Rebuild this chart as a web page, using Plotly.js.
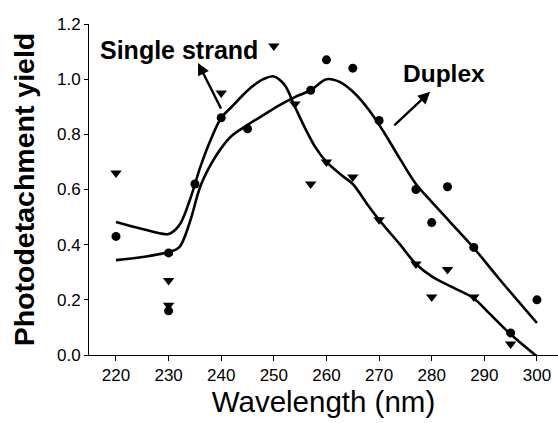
<!DOCTYPE html>
<html>
<head>
<meta charset="utf-8">
<script src="https://cdn.plot.ly/plotly-3.0.1.min.js"></script>
<style>html,body{margin:0;padding:0;background:#fff;}#chart{width:558px;height:423px;}</style>
</head>
<body>
<div id="chart"></div>
<script>
var duplexX = [220, 230, 230, 235, 240, 245, 257, 260, 265, 270, 277, 280, 283, 288, 295, 300];
var duplexY = [0.43, 0.37, 0.16, 0.62, 0.86, 0.82, 0.96, 1.07, 1.04, 0.85, 0.60, 0.48, 0.61, 0.39, 0.08, 0.20];

var singleX = [220, 230, 230, 240, 250, 254, 257, 260, 265, 270, 277, 280, 283, 288, 295, 300];
var singleY = [0.66, 0.27, 0.18, 0.95, 1.12, 0.91, 0.62, 0.70, 0.645, 0.49, 0.33, 0.21, 0.31, 0.21, 0.04, -0.01];

// Smoothed fit curves
var singleFitX = [220, 225, 230, 232, 234, 236, 238, 240, 242, 244, 246, 248, 250, 252, 254, 256, 258, 260, 263, 265, 268, 270, 274, 277, 280, 284, 288, 291, 295, 300];
var singleFitY = [0.482, 0.457, 0.439, 0.47, 0.56, 0.68, 0.78, 0.86, 0.90, 0.94, 0.975, 1.0, 1.01, 0.98, 0.90, 0.82, 0.75, 0.70, 0.65, 0.62, 0.54, 0.49, 0.40, 0.33, 0.285, 0.245, 0.205, 0.15, 0.075, -0.005];

var duplexFitX = [220, 225, 230, 232, 234, 236, 238, 240, 242, 245, 248, 251, 254, 257, 260, 262.5, 265, 268, 271, 274, 277, 280, 283.5, 288, 293, 300];
var duplexFitY = [0.344, 0.355, 0.373, 0.39, 0.48, 0.61, 0.69, 0.75, 0.795, 0.834, 0.87, 0.905, 0.935, 0.96, 1.0, 0.99, 0.955, 0.89, 0.805, 0.71, 0.62, 0.555, 0.482, 0.388, 0.272, 0.116];

var xTicks = [220, 230, 240, 250, 260, 270, 280, 290, 300];
var yTicks = [0.0, 0.2, 0.4, 0.6, 0.8, 1.0, 1.2];
var yTickText = ['0.0', '0.2', '0.4', '0.6', '0.8', '1.0', '1.2'];

var FONT = 'Liberation Sans, Arial, Helvetica, sans-serif';

var traces = [
  {x: singleFitX, y: singleFitY, mode: 'lines', line: {color: '#000', width: 2.6, shape: 'spline', smoothing: 1}, showlegend: false, hoverinfo: 'skip', cliponaxis: false},
  {x: duplexFitX, y: duplexFitY, mode: 'lines', line: {color: '#000', width: 2.6, shape: 'spline', smoothing: 1}, showlegend: false, hoverinfo: 'skip', cliponaxis: false},
  {x: duplexX, y: duplexY, mode: 'markers', name: 'Duplex', marker: {symbol: 'circle', size: 9, color: '#000'}, showlegend: false, cliponaxis: false},
  {x: singleX, y: singleY, mode: 'markers', name: 'Single strand', marker: {symbol: 'triangle-down', size: 10, color: '#000'}, showlegend: false, cliponaxis: false}
];

var layout = {
  width: 558, height: 423,
  margin: {l: 89, r: 0, t: 24, b: 68},
  paper_bgcolor: '#fff', plot_bgcolor: '#fff',
  font: {family: FONT, color: '#000'},
  showlegend: false,
  xaxis: {
    range: [214.87, 304], tickvals: xTicks, ticktext: xTicks.map(String),
    showgrid: false, zeroline: false, showline: true, linecolor: '#000', linewidth: 1,
    ticks: 'outside', ticklen: 5, tickcolor: '#000', tickwidth: 1,
    tickfont: {size: 17, family: FONT, color: '#000'},
    title: {text: 'Wavelength (nm)', font: {size: 29.5, family: FONT, color: '#000'}, standoff: 5}
  },
  yaxis: {
    range: [0, 1.2], tickvals: yTicks, ticktext: yTickText,
    showgrid: false, zeroline: false, showline: true, linecolor: '#000', linewidth: 1,
    ticks: 'outside', ticklen: 4, tickcolor: '#000', tickwidth: 1,
    tickfont: {size: 17, family: FONT, color: '#000'},
    title: {text: '<b>Photodetachment yield</b>', font: {size: 28.5, family: FONT, color: '#000'}, standoff: 13}
  },
  annotations: [
    {x: 232.0, y: 1.106, xref: 'x', yref: 'y', text: '<b>Single strand</b>', showarrow: false, font: {size: 25, family: FONT, color: '#000'}},
    {x: 235.6, y: 1.059, ax: 240.1, ay: 0.888, xref: 'x', yref: 'y', axref: 'x', ayref: 'y', text: '', showarrow: true, arrowhead: 2, arrowsize: 1, arrowwidth: 2.4, arrowcolor: '#000', standoff: 0, startstandoff: 0},
    {x: 282.4, y: 1.019, xref: 'x', yref: 'y', text: '<b>Duplex</b>', showarrow: false, font: {size: 24.5, family: FONT, color: '#000'}},
    {x: 279.7, y: 0.954, ax: 272.6, ay: 0.827, xref: 'x', yref: 'y', axref: 'x', ayref: 'y', text: '', showarrow: true, arrowhead: 2, arrowsize: 1, arrowwidth: 2.4, arrowcolor: '#000', standoff: 0, startstandoff: 0}
  ]
};

Plotly.newPlot('chart', traces, layout, {staticPlot: true, displayModeBar: false});
</script>
</body>
</html>
